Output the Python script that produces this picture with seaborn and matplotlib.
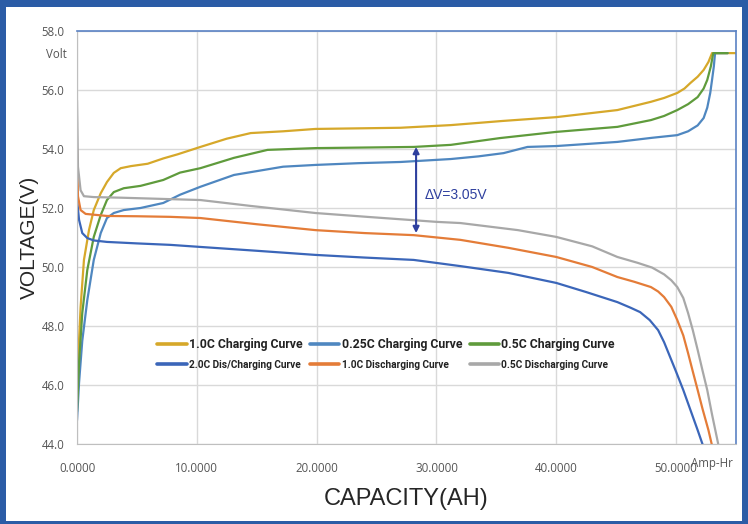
import pandas as pd
import seaborn as sns
import matplotlib.pyplot as plt
from matplotlib.patches import Rectangle
from matplotlib.transforms import blended_transform_factory

# ===== style =====
sns.set_style('white')
plt.rcParams['font.family'] = ['Liberation Sans', 'DejaVu Sans']

# ===== data (capacity Ah, voltage V) =====
labels = ['1.0C Charging Curve', '0.25C Charging Curve', '0.5C Charging Curve',
          '2.0C Dis/Charging Curve', '1.0C Discharging Curve', '0.5C Discharging Curve']
colors = ['#D6A82A', '#4F87C0', '#5F9B3C', '#3B66B9', '#E47C38', '#A8A8A8']

ch10_x = [0, 0.17, 0.3, 0.58, 1.0, 1.4, 1.98, 2.5, 3.07, 3.65, 4.5, 5.9, 7.2, 8.4, 10.3, 12.5,
          14.5, 17.2, 19.9, 23.5, 27.0, 31.2, 35.5, 40.0, 45.1, 47.9, 49.0, 50.1, 50.7, 51.2,
          51.8, 52.3, 52.7, 53.0, 55.0]
ch10_y = [45.8, 47.5, 48.64, 50.24, 51.25, 51.93, 52.5, 52.88, 53.19, 53.35, 53.42, 53.5, 53.68,
          53.82, 54.07, 54.35, 54.54, 54.6, 54.68, 54.7, 54.72, 54.81, 54.95, 55.08, 55.32, 55.6,
          55.73, 55.9, 56.05, 56.24, 56.45, 56.68, 56.95, 57.25, 57.25]

ch025_x = [0, 0.17, 0.44, 0.86, 1.4, 1.98, 2.5, 3.07, 3.9, 5.3, 7.2, 8.6, 10.3, 13.1, 17.2, 19.9,
           23.5, 27.0, 31.2, 33.5, 35.6, 37.6, 40.0, 45.1, 48.0, 50.1, 51.0, 51.8, 52.3, 52.6,
           52.85, 53.0, 53.15, 53.25, 54.3]
ch025_y = [44.8, 46.07, 47.5, 48.88, 50.24, 51.15, 51.66, 51.83, 51.93, 52.0, 52.17, 52.45, 52.72,
           53.12, 53.4, 53.46, 53.52, 53.56, 53.66, 53.75, 53.86, 54.07, 54.1, 54.24, 54.38, 54.47,
           54.6, 54.8, 55.05, 55.4, 55.9, 56.34, 56.8, 57.25, 57.25]

ch05_x = [0, 0.17, 0.44, 0.86, 1.4, 1.98, 2.5, 3.07, 3.9, 5.3, 7.2, 8.6, 10.3, 13.1, 15.9, 19.9,
          24.0, 28.1, 31.2, 35.3, 40.0, 45.1, 47.9, 49.0, 50.1, 51.0, 51.8, 52.3, 52.6, 52.9,
          53.1, 54.3]
ch05_y = [45.1, 46.75, 48.44, 49.9, 51.02, 51.76, 52.27, 52.54, 52.67, 52.75, 52.95, 53.2, 53.35,
          53.7, 53.97, 54.03, 54.05, 54.07, 54.14, 54.37, 54.58, 54.75, 54.98, 55.12, 55.32, 55.52,
          55.76, 56.05, 56.34, 56.8, 57.25, 57.25]

dis20_x = [0, 0.17, 0.44, 0.86, 1.4, 2.5, 5.0, 7.8, 10.3, 15.0, 19.9, 24.0, 28.1, 32.0, 36.0,
           40.0, 42.5, 45.1, 46.2, 47.0, 47.8, 48.5, 49.0, 49.5, 50.0, 50.6, 51.2, 51.8, 52.2, 52.5]
dis20_y = [52.3, 51.6, 51.15, 50.98, 50.9, 50.85, 50.8, 50.75, 50.68, 50.55, 50.41, 50.32, 50.24,
           50.03, 49.8, 49.46, 49.15, 48.81, 48.62, 48.47, 48.2, 47.86, 47.45, 46.95, 46.45, 45.83,
           45.15, 44.47, 44.0, 43.6]

dis10_x = [0, 0.08, 0.3, 0.72, 2.5, 5.0, 7.8, 10.3, 15.0, 19.9, 24.0, 28.1, 32.0, 36.0, 40.0,
           43.0, 45.1, 46.5, 47.9, 48.5, 49.0, 49.6, 50.1, 50.6, 51.0, 51.4, 51.8, 52.2, 52.7, 53.2]
dis10_y = [54.0, 52.4, 51.93, 51.8, 51.73, 51.72, 51.7, 51.66, 51.45, 51.25, 51.15, 51.08, 50.92,
           50.65, 50.34, 50.0, 49.66, 49.5, 49.32, 49.17, 48.98, 48.65, 48.2, 47.68, 47.08, 46.45,
           45.83, 45.2, 44.47, 43.6]

dis05_x = [0, 0.08, 0.3, 0.58, 1.4, 3.6, 7.8, 10.3, 14.5, 19.9, 24.2, 30.0, 32.0, 36.8, 40.0,
           43.0, 45.1, 46.8, 48.0, 49.0, 49.6, 50.1, 50.6, 51.0, 51.4, 51.8, 52.2, 52.6, 53.0,
           53.5, 53.7]
dis05_y = [55.65, 53.4, 52.6, 52.4, 52.37, 52.35, 52.3, 52.27, 52.07, 51.83, 51.7, 51.53, 51.49,
           51.25, 51.02, 50.7, 50.34, 50.14, 49.98, 49.75, 49.55, 49.32, 48.95, 48.44, 47.85,
           47.19, 46.5, 45.83, 45.0, 44.03, 43.5]

xs = [ch10_x, ch025_x, ch05_x, dis20_x, dis10_x, dis05_x]
ys = [ch10_y, ch025_y, ch05_y, dis20_y, dis10_y, dis05_y]

x_ticks = [0, 10, 20, 30, 40, 50]
y_ticks = [44, 46, 48, 50, 52, 54, 56, 58]

# ===== figure with blue frame =====
fig = plt.figure(figsize=(7.48, 5.24), dpi=100, facecolor='#2B5CA6')
fig.add_artist(Rectangle((6 / 748, 3 / 524), 736 / 748, 514 / 524, transform=fig.transFigure,
                         facecolor='white', edgecolor='none', zorder=-10))
ax = fig.add_axes([77 / 748, 80 / 524, 659 / 748, 413 / 524])
ax.set_zorder(1)

for lab, x, y, c in zip(labels, xs, ys, colors):
    df = pd.DataFrame({'cap': x, 'volt': y})
    sns.lineplot(data=df, x='cap', y='volt', color=c, lw=1.6, label=lab, ax=ax,
                 sort=False, estimator=None)

ax.set_xlim(0, 55)
ax.set_ylim(44, 58)
ax.set_xticks(x_ticks)
ax.set_yticks(y_ticks)
ax.set_xticklabels([f'{v:.4f}' for v in x_ticks])
ax.set_yticklabels([f'{v:.1f}' for v in y_ticks])
ax.tick_params(length=0, labelsize=8.3, labelcolor='#555555')
ax.tick_params(axis='x', pad=13)
ax.tick_params(axis='y', pad=9)
for lbl in ax.get_xticklabels() + ax.get_yticklabels():
    lbl.set_fontfamily('Open Sans')

ax.grid(True, color='#D9D9D9', lw=1)
ax.set_axisbelow(True)
for s in ['left', 'bottom']:
    ax.spines[s].set_color('#BFBFBF')
for s in ['top', 'right']:
    ax.spines[s].set_color('#5A82C4')
    ax.spines[s].set_linewidth(1.2)

ax.set_xlabel('CAPACITY(AH)', fontsize=17, labelpad=9)
ax.set_ylabel('VOLTAGE(V)', fontsize=15, labelpad=2)

# unit labels
ax.text(-0.015, 57.2, 'Volt', transform=blended_transform_factory(ax.transAxes, ax.transData),
        ha='right', va='center', fontsize=8.3, color='#555555', fontfamily='Open Sans')
ax.text(53.0, -0.048, 'Amp-Hr', transform=blended_transform_factory(ax.transData, ax.transAxes),
        ha='center', va='center', fontsize=8.3, color='#555555', fontfamily='Open Sans')

# delta V annotation
ax.annotate('', xy=(28.3, 54.07), xytext=(28.3, 51.15),
            arrowprops=dict(arrowstyle='<|-|>', color='#2E3F9E', lw=1.5,
                            mutation_scale=9, shrinkA=0, shrinkB=0))
ax.text(29.05, 52.44, 'ΔV=3.05V', color='#2E3F9E', fontsize=10, va='center', ha='left')

# legend
h, l = ax.get_legend_handles_labels()
order = [0, 3, 1, 4, 2, 5]
leg = ax.legend([h[i] for i in order], [l[i] for i in order], ncol=3, loc='center',
                bbox_to_anchor=(0.469, 0.218), frameon=False, handlelength=2.4,
                handletextpad=0.2, columnspacing=0.6, labelspacing=0.7,
                prop={'family': 'Roboto', 'size': 8.8, 'weight': 'bold'})
for t in leg.get_texts():
    t.set_color('#222222')
    if t.get_text() in labels[3:]:
        t.set_fontsize(7.3)
for lh in leg.legend_handles:
    lh.set_linewidth(2.6)

fig.savefig('out.png', dpi=100, facecolor=fig.get_facecolor())
